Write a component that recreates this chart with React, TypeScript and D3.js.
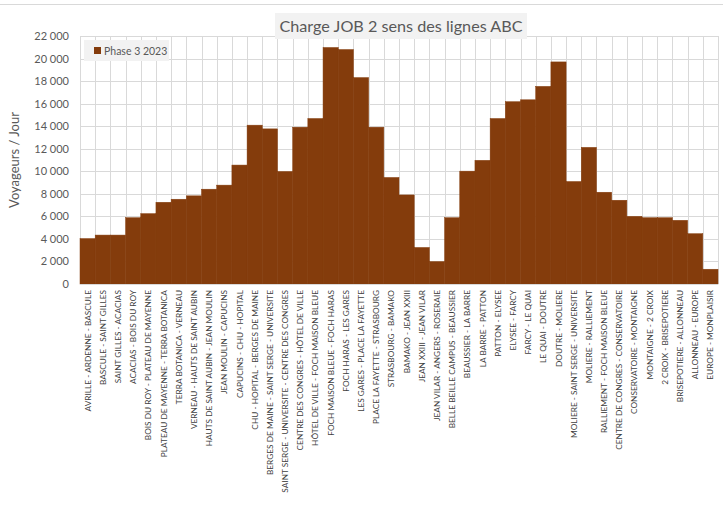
import React, { useRef, useEffect } from 'react';
import * as d3 from 'd3';

const troncons: string[] = [
    'AVRILLE - ARDENNE - BASCULE',
    'BASCULE - SAINT GILLES',
    'SAINT GILLES - ACACIAS',
    'ACACIAS - BOIS DU ROY',
    'BOIS DU ROY - PLATEAU DE MAYENNE',
    'PLATEAU DE MAYENNE - TERRA BOTANICA',
    'TERRA BOTANICA - VERNEAU',
    'VERNEAU - HAUTS DE SAINT AUBIN',
    'HAUTS DE SAINT AUBIN - JEAN MOULIN',
    'JEAN MOULIN - CAPUCINS',
    'CAPUCINS - CHU - HOPITAL',
    'CHU - HOPITAL - BERGES DE MAINE',
    'BERGES DE MAINE - SAINT SERGE - UNIVERSITE',
    'SAINT SERGE - UNIVERSITE - CENTRE DES CONGRES',
    'CENTRE DES CONGRES - HÔTEL DE VILLE',
    'HÔTEL DE VILLE - FOCH MAISON BLEUE',
    'FOCH MAISON BLEUE - FOCH HARAS',
    'FOCH HARAS - LES GARES',
    'LES GARES - PLACE LA FAYETTE',
    'PLACE LA FAYETTE - STRASBOURG',
    'STRASBOURG - BAMAKO',
    'BAMAKO - JEAN XXIII',
    'JEAN XXIII - JEAN VILAR',
    'JEAN VILAR - ANGERS - ROSERAIE',
    'BELLE BEILLE CAMPUS - BEAUSSIER',
    'BEAUSSIER - LA BARRE',
    'LA BARRE - PATTON',
    'PATTON - ELYSEE',
    'ELYSEE - FARCY',
    'FARCY - LE QUAI',
    'LE QUAI - DOUTRE',
    'DOUTRE - MOLIERE',
    'MOLIERE - SAINT SERGE - UNIVERSITE',
    'MOLIERE - RALLIEMENT',
    'RALLIEMENT - FOCH MAISON BLEUE',
    'CENTRE DE CONGRES - CONSERVATOIRE',
    'CONSERVATOIRE - MONTAIGNE',
    'MONTAIGNE - 2 CROIX',
    '2 CROIX - BRISEPOTIERE',
    'BRISEPOTIERE - ALLONNEAU',
    'ALLONNEAU - EUROPE',
    'EUROPE - MONPLAISIR',
];

const voyageurs: number[] = [
    4030, 4340, 4340, 5880, 6240, 7250, 7520, 7820, 8410, 8770,
    10550, 14090, 13760, 9980, 13910, 14680, 20980, 20800, 18310, 13910,
    9450, 7900, 3240, 1990, 5880, 10010, 10970, 14680, 16170, 16340,
    17530, 19700, 9090, 12120, 8140, 7430, 6000, 5880, 5880, 5650,
    4460, 1310,
];

const yTicks: number[] = [0, 2000, 4000, 6000, 8000, 10000, 12000, 14000, 16000, 18000, 20000, 22000];

const serieName = 'Phase 3 2023';
const title = 'Charge JOB 2 sens des lignes ABC';
const yTitle = 'Voyageurs / Jour';

const App: React.FC = () => {
    const svgRef = useRef<SVGSVGElement>(null);

    useEffect(() => {
        const width = 723;
        const height = 506;
        const margin = { top: 36, right: 5, bottom: 222, left: 80 };
        const font = 'Lato, "Open Sans", sans-serif';

        const svg = d3.select(svgRef.current);
        svg.selectAll('*').remove();
        svg.attr('width', width).attr('height', height);

        svg.append('rect').attr('width', width).attr('height', height).attr('fill', '#ffffff');
        // frame top line
        svg.append('line')
            .attr('x1', 0).attr('x2', width).attr('y1', 4.5).attr('y2', 4.5)
            .attr('stroke', '#d9d9d9');

        const xScale = d3.scaleBand<string>()
            .domain(troncons)
            .range([margin.left, width - margin.right])
            .padding(0);

        const yScale = d3.scaleLinear()
            .domain([0, 22000])
            .range([height - margin.bottom, margin.top]);

        // horizontal gridlines
        svg.append('g')
            .selectAll('line')
            .data(yTicks)
            .join('line')
            .attr('x1', margin.left)
            .attr('x2', width - margin.right)
            .attr('y1', d => Math.round(yScale(d)) + 0.5)
            .attr('y2', d => Math.round(yScale(d)) + 0.5)
            .attr('stroke', '#d9d9d9');

        // vertical gridlines at category boundaries
        const bounds = troncons.map(t => xScale(t) as number).concat([width - margin.right]);
        svg.append('g')
            .selectAll('line')
            .data(bounds)
            .join('line')
            .attr('x1', d => Math.round(d) + 0.5)
            .attr('x2', d => Math.round(d) + 0.5)
            .attr('y1', yScale(22000))
            .attr('y2', yScale(0))
            .attr('stroke', '#d9d9d9');

        // bars
        svg.append('g')
            .selectAll('rect')
            .data(voyageurs)
            .join('rect')
            .attr('x', (d, i) => xScale(troncons[i]) as number)
            .attr('width', xScale.bandwidth())
            .attr('y', d => yScale(d))
            .attr('height', d => yScale(0) - yScale(d))
            .attr('fill', '#843c0c')
            .attr('stroke', '#843c0c')
            .attr('stroke-width', 0.5);

        // x axis line
        svg.append('line')
            .attr('x1', margin.left).attr('x2', width - margin.right)
            .attr('y1', yScale(0) + 0.5).attr('y2', yScale(0) + 0.5)
            .attr('stroke', '#d9d9d9');

        // y tick labels
        svg.append('g')
            .selectAll('text')
            .data(yTicks)
            .join('text')
            .attr('x', 69)
            .attr('y', d => yScale(d) + 4)
            .attr('text-anchor', 'end')
            .attr('fill', '#595959')
            .style('font-family', font)
            .style('font-size', '11px')
            .text(d => d3.format(',')(d).replace(/,/g, ' '));

        // x labels (vertical)
        svg.append('g')
            .selectAll('text')
            .data(troncons)
            .join('text')
            .attr('transform', d => {
                const cx = (xScale(d) as number) + xScale.bandwidth() / 2 + 3;
                return `translate(${cx},${yScale(0) + 6}) rotate(-90)`;
            })
            .attr('text-anchor', 'end')
            .attr('fill', '#404040')
            .style('font-family', font)
            .style('font-size', '8.3px')
            .text(d => d);

        // y axis title
        svg.append('text')
            .attr('transform', `translate(19,${(yScale(0) + yScale(22000)) / 2}) rotate(-90)`)
            .attr('text-anchor', 'middle')
            .attr('fill', '#595959')
            .style('font-family', font)
            .style('font-size', '13px')
            .text(yTitle);

        // legend
        svg.append('rect')
            .attr('x', 84).attr('y', 40).attr('width', 85).attr('height', 21)
            .attr('fill', '#f2f2f2');
        svg.append('rect')
            .attr('x', 94).attr('y', 47).attr('width', 7).attr('height', 7)
            .attr('fill', '#843c0c');
        svg.append('text')
            .attr('x', 104).attr('y', 54.5)
            .attr('fill', '#595959')
            .style('font-family', font)
            .style('font-size', '10.5px')
            .text(serieName);

        // title
        svg.append('rect')
            .attr('x', 275).attr('y', 13).attr('width', 252).attr('height', 26)
            .attr('fill', '#f2f2f2');
        svg.append('text')
            .attr('x', 401).attr('y', 32)
            .attr('text-anchor', 'middle')
            .attr('fill', '#595959')
            .style('font-family', font)
            .style('font-size', '16.2px')
            .text(title);
    }, []);

    return (
        <div style={{ position: 'absolute', left: 0, top: 0 }}>
            <svg ref={svgRef} style={{ display: 'block' }} />
        </div>
    );
};

export default App;
